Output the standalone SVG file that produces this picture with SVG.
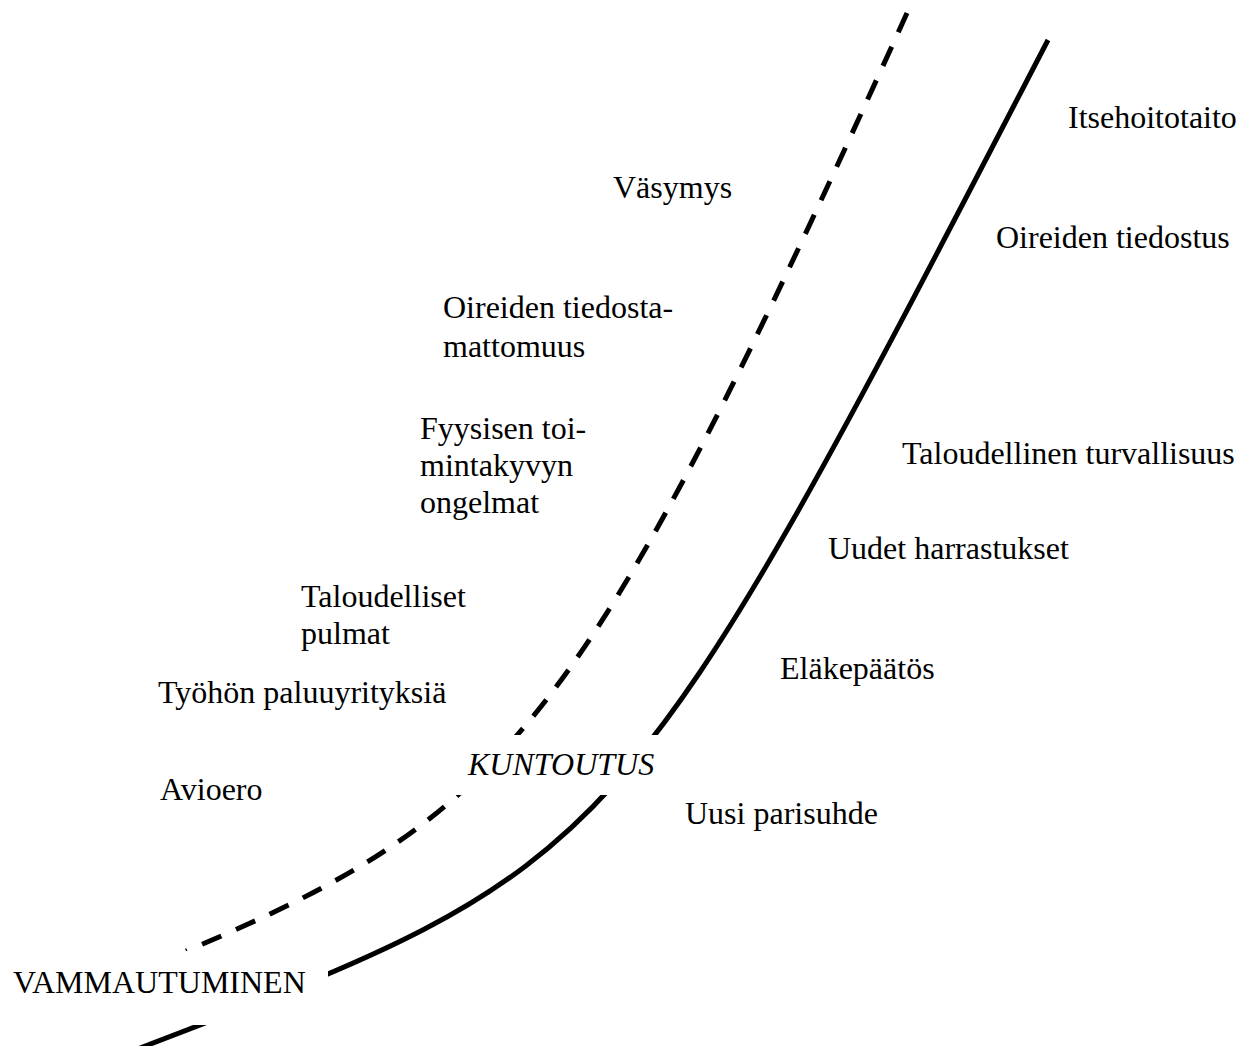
<svg xmlns="http://www.w3.org/2000/svg" width="1248" height="1046" viewBox="0 0 1248 1046">
  <style>
    .lbl { font-family: "Liberation Serif", "Times New Roman", serif; font-size: 32px; fill: #000; }
    .it { font-style: italic; }
    .curve { fill: none; stroke: #000; stroke-width: 5; }
    .dashed { stroke-dasharray: 21 16; }
    .mask { fill: #fff; stroke: none; }
  </style>
  <rect width="1248" height="1046" fill="#fff"/>

  <!-- connectors: the two trajectories (dashed one drawn from its top end) -->
  <g id="connectors">
    <path id="path-dashed" class="curve dashed" d="M 907 13 C 586.2 720.2 514.7 813.5 186 951"/>
    <path id="path-solid" class="curve" d="M 140 1048 C 620 865 620 865 1048 40"/>
  </g>

  <!-- start label (its box hides the curves behind it) -->
  <g id="node-vammautuminen">
    <rect class="mask" x="0" y="951" width="328" height="74"/>
    <text class="lbl" x="13" y="993">VAMMAUTUMINEN</text>
  </g>

  <!-- rehabilitation label -->
  <g id="node-kuntoutus">
    <rect class="mask" x="452" y="735" width="214" height="60"/>
    <text class="lbl it" x="468" y="775">KUNTOUTUS</text>
  </g>

  <!-- left side labels -->
  <g id="node-vasymys"><text class="lbl" x="613" y="198">Väsymys</text></g>
  <g id="node-oireiden-tiedostamattomuus">
    <text class="lbl" x="443" y="318">Oireiden tiedosta-</text>
    <text class="lbl" x="443" y="357">mattomuus</text>
  </g>
  <g id="node-fyysisen">
    <text class="lbl" x="420" y="439">Fyysisen toi-</text>
    <text class="lbl" x="420" y="476">mintakyvyn</text>
    <text class="lbl" x="420" y="513">ongelmat</text>
  </g>
  <g id="node-taloudelliset">
    <text class="lbl" x="301" y="607">Taloudelliset</text>
    <text class="lbl" x="301" y="644">pulmat</text>
  </g>
  <g id="node-tyohon"><text class="lbl" x="158" y="703">Työhön paluuyrityksiä</text></g>
  <g id="node-avioero"><text class="lbl" x="160" y="800">Avioero</text></g>

  <!-- right side labels -->
  <g id="node-itsehoitotaito"><text class="lbl" x="1068" y="128">Itsehoitotaito</text></g>
  <g id="node-oireiden-tiedostus"><text class="lbl" x="996" y="248">Oireiden tiedostus</text></g>
  <g id="node-taloudellinen"><text class="lbl" x="902" y="464">Taloudellinen turvallisuus</text></g>
  <g id="node-uudet"><text class="lbl" x="828" y="559">Uudet harrastukset</text></g>
  <g id="node-elakepaatos"><text class="lbl" x="780" y="679">Eläkepäätös</text></g>
  <g id="node-uusi"><text class="lbl" x="685" y="824">Uusi parisuhde</text></g>
</svg>
